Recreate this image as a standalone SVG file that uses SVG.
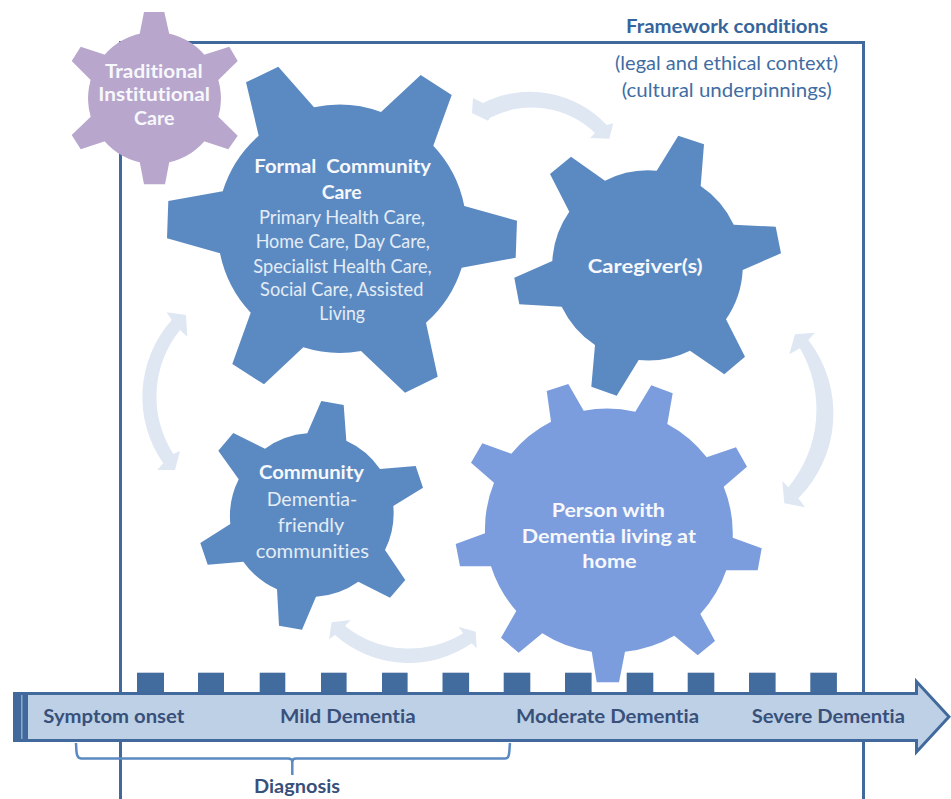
<svg xmlns="http://www.w3.org/2000/svg" width="951" height="799" viewBox="0 0 951 799">
<style>
text{font-family:Lato,"Liberation Sans",sans-serif;text-anchor:middle;font-variant-ligatures:none;font-size:18.8px}
.b{font-weight:700}
.w{fill:#F6F8FC}
.r{fill:#E4ECF6}
.f{fill:#35659C}
.fr{fill:#3F6DA3}
.s{fill:#38507A;font-weight:700}
.gear{fill:#5B8AC2}
.arc{fill:#DFE7F3}
.tick{fill:#426B9E}
</style>
<rect width="951" height="799" fill="#fff"/>
<path id="frame" d="M120.5 799V42.5H863.5V799" fill="none" stroke="#41699C" stroke-width="3"/>
<g id="framework-label">
<text class="f b" x="727" y="32.7" textLength="202" lengthAdjust="spacingAndGlyphs">Framework conditions</text>
<text class="fr" x="726.5" y="70" textLength="223" lengthAdjust="spacingAndGlyphs">(legal and ethical context)</text>
<text class="fr" x="726.7" y="96.7" textLength="210" lengthAdjust="spacingAndGlyphs">(cultural underpinnings)</text>
</g>
<g id="connectors">
<path class="arc" d="M472 113L473 98L483 103A105 105 0 0 1 606.7 125L613.3 123.3L609.3 138.7L590 138L595 133A91 91 0 0 0 490 117.7L488 120.7Z"/>
<path class="arc" d="M186 315L166.7 312.3L171.7 320A115.6 115.6 0 0 0 163.3 463.3L157.3 470L175 470L180 451L173.3 454A106 106 0 0 1 180 330L187.3 336.7Z"/>
<path class="arc" d="M795 334.3L815 332.7L808.3 340A120 120 0 0 1 798.3 498.3L805 507.3L784.3 503.3L782.3 481L788.3 487.3A121.7 121.7 0 0 0 800 348.3L789.3 354.3Z"/>
<path class="arc" d="M331.7 622.3L350.7 620L345 626A103 103 0 0 0 463.3 633.3L458.3 626.7L475.7 631.7L476.7 648.3L471.7 643.3A110.8 110.8 0 0 1 335 635L329 639.3Z"/>
</g>
<g id="traditional-institutional-care" fill="#B8A6CC">
<circle cx="154.500" cy="98" r="66"/>
<path d="M144 12H164.3L170 37.3A66 66 0 0 1 203.3 55L229.3 46.7L237.7 61L218.3 80A66 66 0 0 1 218.3 116.7L237.7 135.7L228.3 149.3L203.3 141A66 66 0 0 1 170 158.3L165 184.3H144L139 158.3A66 66 0 0 1 105.7 141L80.7 149.3L71.7 135L90.7 116.7A66 66 0 0 1 90.7 80L71.7 61L80.7 46.7L105.7 55A66 66 0 0 1 139 37.3Z"/>
<text class="b w" x="153.8" y="78.3" textLength="97.7" lengthAdjust="spacingAndGlyphs">Traditional</text>
<text class="b w" x="154.2" y="101" textLength="111.7" lengthAdjust="spacingAndGlyphs">Institutional</text>
<text class="b w" x="154.2" y="125" textLength="40.3" lengthAdjust="spacingAndGlyphs">Care</text>
</g>
<g id="formal-community-care">
<path class="gear" d="M246 82.3L278.3 66.7L314 107.3A122 122 0 0 1 381 112L420.7 75L451.7 95L433.3 145.7A122 122 0 0 1 464.3 206L517 220.7L515.7 257.7L461.7 267.7A122 122 0 0 1 426 322.7L437.7 376.7L405 392.7L361 351A122 122 0 0 1 303.3 347.3L264 384.3L232.3 364L250.7 312.7A122 122 0 0 1 220 253.3L167 238.3L168.3 201L222.7 191.3A122 122 0 0 1 258.7 135.7Z"/>
<text class="b w" x="342.7" y="173.3" textLength="176.7" lengthAdjust="spacingAndGlyphs" xml:space="preserve">Formal  Community</text>
<text class="b w" x="341.7" y="199.3" textLength="40" lengthAdjust="spacingAndGlyphs">Care</text>
<text class="r" x="342" y="224" textLength="166" lengthAdjust="spacingAndGlyphs">Primary Health Care,</text>
<text class="r" x="342.8" y="248.3" textLength="174.3" lengthAdjust="spacingAndGlyphs">Home Care, Day Care,</text>
<text class="r" x="342.5" y="272.7" textLength="178.4" lengthAdjust="spacingAndGlyphs">Specialist Health Care,</text>
<text class="r" x="341.7" y="296" textLength="163.3" lengthAdjust="spacingAndGlyphs">Social Care, Assisted</text>
<text class="r" x="342.2" y="320" textLength="45.7" lengthAdjust="spacingAndGlyphs">Living</text>
</g>
<g id="caregivers">
<path class="gear" d="M550 174L571 156.7L605 180.7A95 95 0 0 1 656.7 170.7L678.3 135.7L704 144.3L700.7 186A95 95 0 0 1 733.7 224.7L775.7 226.7L781 253.3L742.7 270A95 95 0 0 1 726 319.3L745 356.7L724.3 374.3L690 350.7A95 95 0 0 1 638.7 360L616.7 395.7L591.3 386.7L595 345A95 95 0 0 1 561.7 306.7L519.3 304.3L514.3 277.7L552.3 261A95 95 0 0 1 569.3 211.7Z"/>
<text class="b w" x="645.2" y="273.3" textLength="115" lengthAdjust="spacingAndGlyphs">Caregiver(s)</text>
</g>
<g id="community">
<path class="gear" d="M218.3 450.7L233.3 433L265 448.7A82 82 0 0 1 307.3 433.3L321.3 401L343.7 405L346.3 440.7A82 82 0 0 1 380 469L415.7 466L423 487.7L393.3 506A82 82 0 0 1 385 550L405.3 580L390 597.7L358.3 581.7A82 82 0 0 1 316 596.7L302 629.7L279 625.7L277 589.3A82 82 0 0 1 243.3 561.7L207.7 564.7L200.3 543L230.3 524A82 82 0 0 1 238.7 479.3Z"/>
<text class="b w" x="311.5" y="479" textLength="105" lengthAdjust="spacingAndGlyphs">Community</text>
<text class="r" x="312" y="506" textLength="90.6" lengthAdjust="spacingAndGlyphs">Dementia-</text>
<text class="r" x="311" y="531.7" textLength="66.6" lengthAdjust="spacingAndGlyphs">friendly</text>
<text class="r" x="312.3" y="558.3" textLength="113.3" lengthAdjust="spacingAndGlyphs">communities</text>
</g>
<g id="person-with-dementia">
<path fill="#7C9DDD" d="M546.7 391L568.3 384L583.7 410.7A124 124 0 0 1 635.3 411.7L651.3 385.3L672.7 393.3L667.3 424A124 124 0 0 1 706.7 457.3L736 447.3L747 466.7L723.7 486.7A124 124 0 0 1 732.7 537.7L761.7 548.3L757.7 570.3H726.3A124 124 0 0 1 700.3 614L715 641L697.7 655.3L674.3 635.7A124 124 0 0 1 625 651.7L619 682.3H596.7L591.7 651.7A124 124 0 0 1 542.3 633.3L518.7 652.7L501 637.7L516.3 611A124 124 0 0 1 491 566.3H460L455.7 544L485 533.3A124 124 0 0 1 494 482.7L471 462.7L482.3 443.3L511.3 453.7A124 124 0 0 1 551 421.7Z"/>
<text class="b w" x="608.3" y="517.3" textLength="113.3" lengthAdjust="spacingAndGlyphs">Person with</text>
<text class="b w" x="608.8" y="542.7" textLength="174.3" lengthAdjust="spacingAndGlyphs">Dementia living at</text>
<text class="b w" x="609.5" y="568.3" textLength="54.4" lengthAdjust="spacingAndGlyphs">home</text>
</g>
<g id="timeline">
<rect class="tick" x="137" y="672.7" width="27" height="20"/>
<rect class="tick" x="198" y="672.7" width="26" height="20"/>
<rect class="tick" x="259.7" y="672.7" width="25.6" height="20"/>
<rect class="tick" x="321" y="672.7" width="25.6" height="20"/>
<rect class="tick" x="382" y="672.7" width="25.6" height="20"/>
<rect class="tick" x="442.5" y="672.7" width="26.6" height="20"/>
<rect class="tick" x="503.7" y="672.7" width="26.6" height="20"/>
<rect class="tick" x="565" y="672.7" width="26.6" height="20"/>
<rect class="tick" x="626.7" y="672.7" width="26.6" height="20"/>
<rect class="tick" x="687.7" y="672.7" width="26.6" height="20"/>
<rect class="tick" x="749" y="672.7" width="26.6" height="20"/>
<rect class="tick" x="810.3" y="672.7" width="26.6" height="20"/>
<path d="M14.5 693.5H916.5V681.500L949 716.700L916.500 752V740.5H14.5Z" fill="#BDD0E6" stroke="#41699C" stroke-width="3"/>
<rect x="13" y="692" width="15" height="50" fill="#41699C"/>
<rect x="21" y="695" width="1.5" height="44" fill="#8FA9CB"/>
<text class="s" x="113.8" y="723.3" textLength="141" lengthAdjust="spacingAndGlyphs">Symptom onset</text>
<text class="s" x="347.8" y="723.3" textLength="135.7" lengthAdjust="spacingAndGlyphs">Mild Dementia</text>
<text class="s" x="607.5" y="723.3" textLength="183" lengthAdjust="spacingAndGlyphs">Moderate Dementia</text>
<text class="s" x="828.3" y="723.3" textLength="153.3" lengthAdjust="spacingAndGlyphs">Severe Dementia</text>
</g>
<g id="diagnosis">
<path d="M76 743C76.500 752 76 758 81 758.500H288C291 758.500 292.300 760 292.300 762V775M292.300 762C292.300 760 293.500 758.500 296 758.500H505C510 758.500 509 752 510 743" fill="none" stroke="#5B8AC2" stroke-width="2.500"/>
<text class="s" x="297" y="793.3" textLength="86" lengthAdjust="spacingAndGlyphs">Diagnosis</text>
</g>
</svg>
